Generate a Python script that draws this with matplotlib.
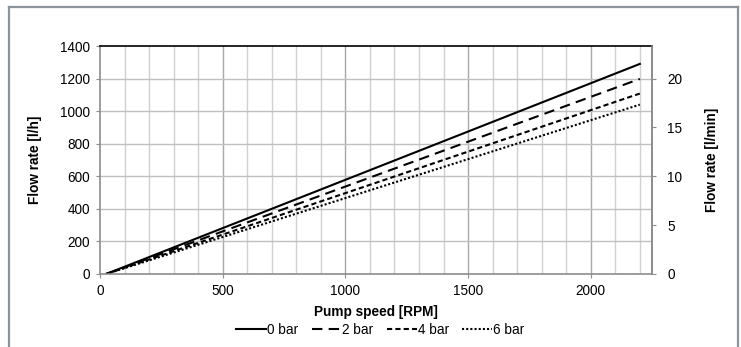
import matplotlib
matplotlib.use('Agg')
import matplotlib.pyplot as plt
from matplotlib.lines import Line2D

plt.rcParams['font.family'] = ['Liberation Sans', 'DejaVu Sans']
plt.rcParams['font.size'] = 9.8

# pump speed [RPM] and flow rate [l/h] for each back pressure
speed = [25, 2200]
flow_0bar = [0, 1290]
flow_2bar = [0, 1198]
flow_4bar = [0, 1108]
flow_6bar = [0, 1040]
labels = ['0 bar', '2 bar', '4 bar', '6 bar']

fig = plt.figure(figsize=(7.41, 3.47), dpi=100)
ax = fig.add_axes([0.135, 0.2104, 0.745, 0.6570])

ax.plot(speed, flow_0bar, color='black', lw=1.5, ls='-', label=labels[0])
ax.plot(speed, flow_2bar, color='black', lw=1.5, dashes=(5, 3), label=labels[1])
ax.plot(speed, flow_4bar, color='black', lw=1.5, dashes=(2.5, 1.5), label=labels[2])
ax.plot(speed, flow_6bar, color='black', lw=1.5, dashes=(1, 1), label=labels[3])

ax.set_xlim(0, 2250)
ax.set_ylim(0, 1400)
ax.set_xticks(range(0, 2001, 500))
ax.set_yticks(range(0, 1401, 200))

# gridlines: light minor, a bit darker at major
for x in range(100, 2250, 100):
    c = '#a8a8a8' if x % 500 == 0 else '#d0d0d0'
    ax.axvline(x, color=c, lw=1, zorder=0)
for y in range(200, 1400, 200):
    ax.axhline(y, color='#c0c0c0', lw=1, zorder=0)

for s in ['left', 'bottom', 'right']:
    ax.spines[s].set_color('#8c8c8c')
    ax.spines[s].set_linewidth(1.2)
ax.spines['top'].set_color('black')
ax.spines['top'].set_linewidth(1.2)

ax.tick_params(axis='both', which='major', direction='out', length=3, color='#8c8c8c', pad=4)

ax.set_xlabel('Pump speed [RPM]', fontweight='bold', labelpad=5)
ax.set_ylabel('Flow rate [l/h]', fontweight='bold', labelpad=13)

ax2 = ax.twinx()
ax2.set_ylim(0, 1400 / 60)
ax2.set_yticks([0, 5, 10, 15, 20])
ax2.spines['right'].set_color('#8c8c8c')
ax2.spines['right'].set_linewidth(1.2)
for s in ['left', 'top', 'bottom']:
    ax2.spines[s].set_visible(False)
ax2.tick_params(axis='y', direction='out', length=3, color='#8c8c8c', pad=8)
ax2.set_ylabel('Flow rate [l/min]', fontweight='bold', labelpad=16)

ax.legend(loc='upper center', bbox_to_anchor=(0.513, 0.085), bbox_transform=fig.transFigure,
          ncol=4, frameon=False, handlelength=2.2, handletextpad=0.05, columnspacing=1.0,
          borderaxespad=0)

# gray frame around the figure (open at the bottom)
fc = '#8c939b'
fig.add_artist(Line2D([9 / 741, 9 / 741], [0, 1 - 7 / 347], color=fc, lw=1.6, transform=fig.transFigure))
fig.add_artist(Line2D([9 / 741, 737.5 / 741], [1 - 7 / 347, 1 - 7 / 347], color=fc, lw=1.6, transform=fig.transFigure))
fig.add_artist(Line2D([737.5 / 741, 737.5 / 741], [0, 1 - 7 / 347], color=fc, lw=1.6, transform=fig.transFigure))

fig.savefig('out.png', dpi=100)
